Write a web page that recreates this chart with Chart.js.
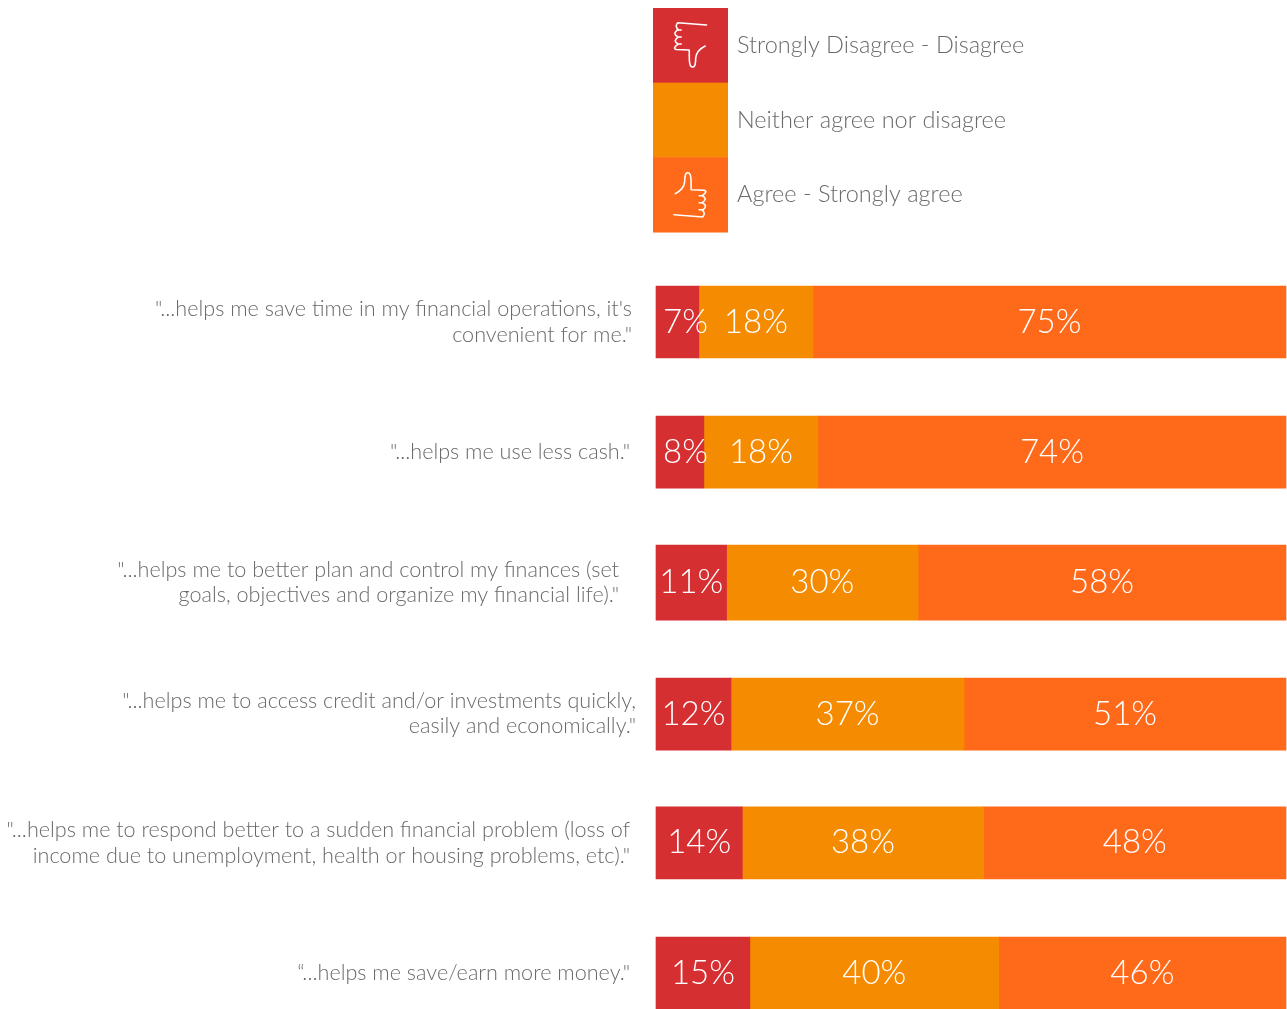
<!DOCTYPE html>
<html>
<head>
<meta charset="utf-8">
<style>
html,body{margin:0;padding:0;background:#fff;overflow:hidden}
canvas{display:block}
</style>
<script src="https://cdn.jsdelivr.net/npm/chart.js@4/dist/chart.umd.min.js"></script>
</head>
<body>
<canvas id="chart" width="1287" height="1009"></canvas>
<script>
const statements = [
  ['"...helps me save time in my financial operations, it\'s', 'convenient for me."'],
  ['"...helps me use less cash."'],
  ['"...helps me to better plan and control my finances (set', 'goals, objectives and organize my financial life)."'],
  ['"...helps me to access credit and/or investments quickly,', 'easily and economically."'],
  ['"...helps me to respond better to a sudden financial problem (loss of', 'income due to unemployment, health or housing problems, etc)."'],
  ['“...helps me save/earn more money."']
];
const seriesNames = ['Strongly Disagree - Disagree', 'Neither agree nor disagree', 'Agree - Strongly agree'];
const disagree = [6.8, 7.6, 11.2, 11.9, 13.7, 14.9];
const neutral = [18.1, 18.1, 30.4, 37.0, 38.3, 39.5];
const agree = [75.1, 74.3, 58.4, 51.1, 48.0, 45.6];
const seriesColors = ['#D62F32', '#F48B00', '#FF691A'];

const FONT = 'Lato, sans-serif';
const TEXT_GREY = '#6a6a68';
// right edge of each statement's text block, relative to the plot's left side
const labelInset = [24, 26, 37, 20, 26, 26];
// small per-row layout adjustments of the bars
const rowShift = [0, 0, 0.2, 1.5, 0, 0];
const rowHeightExtra = [0, 0, 3, 0, 0, 0];

// one hand, pointing down, centred on the origin
function traceHand(ctx) {
  ctx.beginPath();
  ctx.moveTo(16.3, -20);
  ctx.lineTo(-12.5, -22.3);
  ctx.quadraticCurveTo(-16, -18.5, -11.5, -15);
  ctx.moveTo(-9, -15);
  ctx.lineTo(-13, -15);
  ctx.quadraticCurveTo(-18, -11, -12, -8);
  ctx.lineTo(-9, -8);
  ctx.moveTo(-12, -8);
  ctx.quadraticCurveTo(-18, -4, -12, -1);
  ctx.lineTo(-9, -1);
  ctx.moveTo(-12, -1);
  ctx.quadraticCurveTo(-18, 3, -14, 4.5);
  ctx.lineTo(-1, 5);
  ctx.bezierCurveTo(-0.5, 11, -2, 19, 1, 21.5);
  ctx.bezierCurveTo(5, 23.5, 5.5, 18, 5.5, 13);
  ctx.bezierCurveTo(6, 8, 10, 3.5, 15, 1);
  ctx.stroke();
}

const rowLayoutPlugin = {
  id: 'rowLayout',
  afterDatasetsUpdate(chart) {
    chart.data.datasets.forEach((ds, d) => {
      chart.getDatasetMeta(d).data.forEach((bar, i) => {
        bar.y += rowShift[i];
        bar.height += rowHeightExtra[i];
      });
    });
  }
};

const legendPlugin = {
  id: 'sideLegend',
  afterDraw(chart) {
    const ctx = chart.ctx;
    const left = 653, top = 8, width = 75, rowHeight = 74.67;
    ctx.save();
    seriesNames.forEach((name, i) => {
      const y = top + i * rowHeight;
      ctx.fillStyle = seriesColors[i];
      ctx.fillRect(left, y, width, rowHeight + 0.5);
      ctx.fillStyle = TEXT_GREY;
      ctx.font = '300 23.5px ' + FONT;
      ctx.textAlign = 'left';
      ctx.textBaseline = 'middle';
      ctx.fillText(name, left + 84, y + rowHeight / 2);
    });
    ctx.strokeStyle = '#fff';
    ctx.lineWidth = 1.6;
    ctx.lineCap = 'round';
    ctx.lineJoin = 'round';
    ctx.save();
    ctx.translate(left + width / 2 - 0.3, top + rowHeight / 2 - 0.3);
    traceHand(ctx);
    ctx.restore();
    ctx.save();
    ctx.translate(left + width / 2 - 0.3, top + 2.5 * rowHeight);
    ctx.rotate(Math.PI);
    traceHand(ctx);
    ctx.restore();
    ctx.restore();
  }
};

const statementPlugin = {
  id: 'statementLabels',
  afterDraw(chart) {
    const ctx = chart.ctx, yScale = chart.scales.y, lineHeight = 25.5;
    ctx.save();
    ctx.fillStyle = TEXT_GREY;
    ctx.font = '300 21.6px ' + FONT;
    ctx.textAlign = 'right';
    ctx.textBaseline = 'middle';
    statements.forEach((lines, i) => {
      const cy = yScale.getPixelForValue(i) + rowShift[i] * 0.6;
      lines.forEach((line, k) => {
        const y = cy + (k - (lines.length - 1) / 2) * lineHeight;
        ctx.fillText(line, chart.chartArea.left - labelInset[i], y);
      });
    });
    ctx.restore();
  }
};

const valuePlugin = {
  id: 'valueLabels',
  afterDatasetsDraw(chart) {
    const ctx = chart.ctx;
    ctx.save();
    ctx.fillStyle = '#fff';
    ctx.font = '300 33px ' + FONT;
    ctx.textAlign = 'center';
    ctx.textBaseline = 'middle';
    chart.data.datasets.forEach((ds, d) => {
      chart.getDatasetMeta(d).data.forEach((bar, i) => {
        const text = Math.round(ds.data[i]) + '%';
        const w = ctx.measureText(text).width;
        const start = bar.base, size = bar.x - bar.base;
        // narrow segments keep the text near their left side and let it overflow
        const x = size < 50 ? start + 7 + w / 2 : start + size / 2;
        ctx.fillText(text, x, bar.y);
      });
    });
    ctx.restore();
  }
};

new Chart(document.getElementById('chart'), {
  type: 'bar',
  data: {
    labels: statements,
    datasets: [disagree, neutral, agree].map((values, i) => ({
      label: seriesNames[i],
      data: values,
      backgroundColor: seriesColors[i],
      borderWidth: 0,
      barThickness: 72,
      clip: false
    }))
  },
  options: {
    indexAxis: 'y',
    responsive: false,
    animation: false,
    layout: { padding: { left: 656, right: 1, top: 322, bottom: 36 } },
    plugins: { legend: { display: false }, tooltip: { enabled: false } },
    scales: {
      x: { stacked: true, min: 0, max: 100, display: false },
      y: { stacked: true, offset: false, display: false }
    }
  },
  plugins: [rowLayoutPlugin, statementPlugin, valuePlugin, legendPlugin]
});
</script>
</body>
</html>
